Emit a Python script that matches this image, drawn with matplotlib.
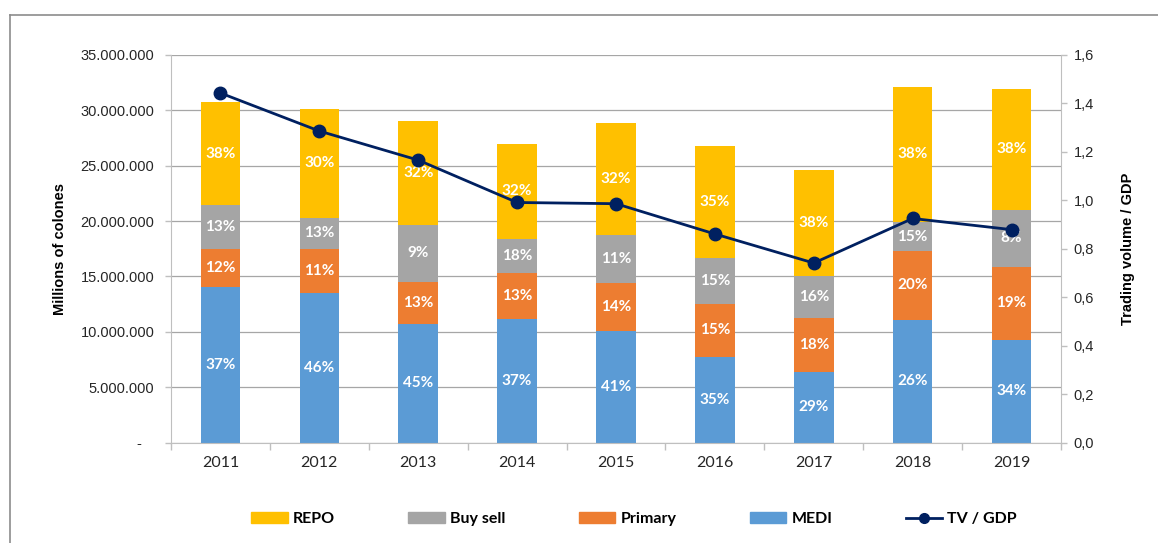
import matplotlib
matplotlib.use("Agg")
import matplotlib.pyplot as plt
import numpy as np
from matplotlib.lines import Line2D
from matplotlib.patches import Patch
from matplotlib.ticker import FuncFormatter, FixedLocator

plt.rcParams["font.family"] = ["Liberation Sans", "DejaVu Sans"]

# Data (millions of colones)
years = ["2011", "2012", "2013", "2014", "2015", "2016", "2017", "2018", "2019"]
medi = [14.05, 13.48, 10.73, 11.13, 10.07, 7.72, 6.34, 11.07, 9.26]
primary = [3.46, 4.03, 3.80, 4.15, 4.37, 4.82, 4.93, 6.23, 6.62]
buy_sell = [3.92, 2.80, 5.12, 3.08, 4.30, 4.10, 3.80, 2.59, 5.15]
repo = [9.33, 9.79, 9.39, 8.64, 10.09, 10.14, 9.55, 12.25, 10.93]
tv_gdp = [1.443, 1.286, 1.166, 0.991, 0.986, 0.861, 0.741, 0.925, 0.879]

# Percentage labels shown on the bars
medi_pct = [37, 46, 45, 37, 41, 35, 29, 26, 34]
primary_pct = [12, 11, 13, 13, 14, 15, 18, 20, 19]
buy_sell_pct = [13, 13, 9, 18, 11, 15, 16, 15, 8]
repo_pct = [38, 30, 32, 32, 32, 35, 38, 38, 38]

C_REPO = "#FFC000"
C_BUY = "#A5A5A5"
C_PRIM = "#ED7D31"
C_MEDI = "#5B9BD5"
C_LINE = "#002060"
AXIS_GREY = "#BFBFBF"

W, H = 1158, 543
fig = plt.figure(figsize=(W / 100, H / 100), dpi=100)

# frame (only left and top edges visible in the cropped original)
fig.add_artist(Line2D([9.5 / W, 9.5 / W], [0, 1 - 15 / H], color="#8C8C8C", lw=1.2))
fig.add_artist(Line2D([9.5 / W, 1], [1 - 15 / H, 1 - 15 / H], color="#8C8C8C", lw=1.2))

left, right, top, bottom = 171, 1061, 55, 442.5
ax = fig.add_axes([left / W, 1 - bottom / H, (right - left) / W, (bottom - top) / H])

x = np.arange(len(years))
scale = 1e6
series = [
    (medi, medi_pct, C_MEDI),
    (primary, primary_pct, C_PRIM),
    (buy_sell, buy_sell_pct, C_BUY),
    (repo, repo_pct, C_REPO),
]
base = np.zeros(len(years))
for vals, pcts, col in series:
    v = np.array(vals) * scale
    ax.bar(x, v, width=0.4, bottom=base, color=col, zorder=2)
    for i in range(len(years)):
        ax.text(x[i], base[i] + v[i] / 2, f"{pcts[i]}%", ha="center", va="center",
                color="white", fontsize=11, fontweight="bold", family="Lato", zorder=3)
    base = base + v

ax.set_xlim(-0.5, len(years) - 0.5)
ax.set_ylim(0, 35e6)
ax.set_yticks(np.arange(0, 35e6 + 1, 5e6))


def left_fmt(v, pos):
    if v == 0:
        return "-   "
    return f"{int(round(v)):,}".replace(",", ".")


ax.yaxis.set_major_formatter(FuncFormatter(left_fmt))
ax.grid(axis="y", color="#A6A6A6", lw=0.9)
ax.set_axisbelow(True)

ax.set_xticks(x)
ax.set_xticklabels(years, family="Lato", fontsize=11.5, color="#262626")
ax.xaxis.set_minor_locator(FixedLocator(np.arange(-0.5, len(years), 1.0)))
ax.tick_params(axis="x", which="major", length=0, pad=10)
ax.tick_params(axis="x", which="minor", length=5, color=AXIS_GREY, width=1)
ax.tick_params(axis="y", length=4, color=AXIS_GREY, width=1, pad=8,
               labelsize=10.5, labelcolor="#262626", labelfontfamily="Liberation Sans")

for s in ["top", "right"]:
    ax.spines[s].set_visible(False)
ax.spines["left"].set_color(AXIS_GREY)
ax.spines["bottom"].set_color(AXIS_GREY)

ax2 = ax.twinx()
ax2.plot(x, tv_gdp, color=C_LINE, lw=2, marker="o", ms=9, zorder=5)
ax2.set_ylim(0, 1.6)
ax2.set_yticks(np.arange(0, 1.61, 0.2))
ax2.yaxis.set_major_formatter(FuncFormatter(lambda v, p: f"{v:.1f}".replace(".", ",")))
ax2.tick_params(axis="y", length=4, color=AXIS_GREY, width=1, pad=5,
                labelsize=10.5, labelcolor="#262626", labelfontfamily="Liberation Sans")
for s in ["top", "left", "bottom"]:
    ax2.spines[s].set_visible(False)
ax2.spines["right"].set_color(AXIS_GREY)

fig.text(60 / W, 1 - 249 / H, "Millions of colones", rotation=90, ha="center", va="center",
         family="Liberation Sans", fontweight="bold", fontsize=10.5)
fig.text(1128 / W, 1 - 249 / H, "Trading volume / GDP", rotation=90, ha="center", va="center",
         family="Liberation Sans", fontweight="bold", fontsize=10.5)

handles = [
    Patch(color=C_REPO),
    Patch(color=C_BUY),
    Patch(color=C_PRIM),
    Patch(color=C_MEDI),
    Line2D([], [], color=C_LINE, lw=2, marker="o", ms=7),
]
labels = ["REPO", "Buy sell", "Primary", "MEDI", "TV / GDP"]
fig.legend(handles, labels, loc="center", bbox_to_anchor=(634 / W, 1 - 519 / H), ncol=5,
           frameon=False, handlelength=2.3, columnspacing=4.6, handletextpad=0.3,
           prop={"family": "Lato", "weight": "bold", "size": 11.5})

fig.savefig("out.png", dpi=100)
